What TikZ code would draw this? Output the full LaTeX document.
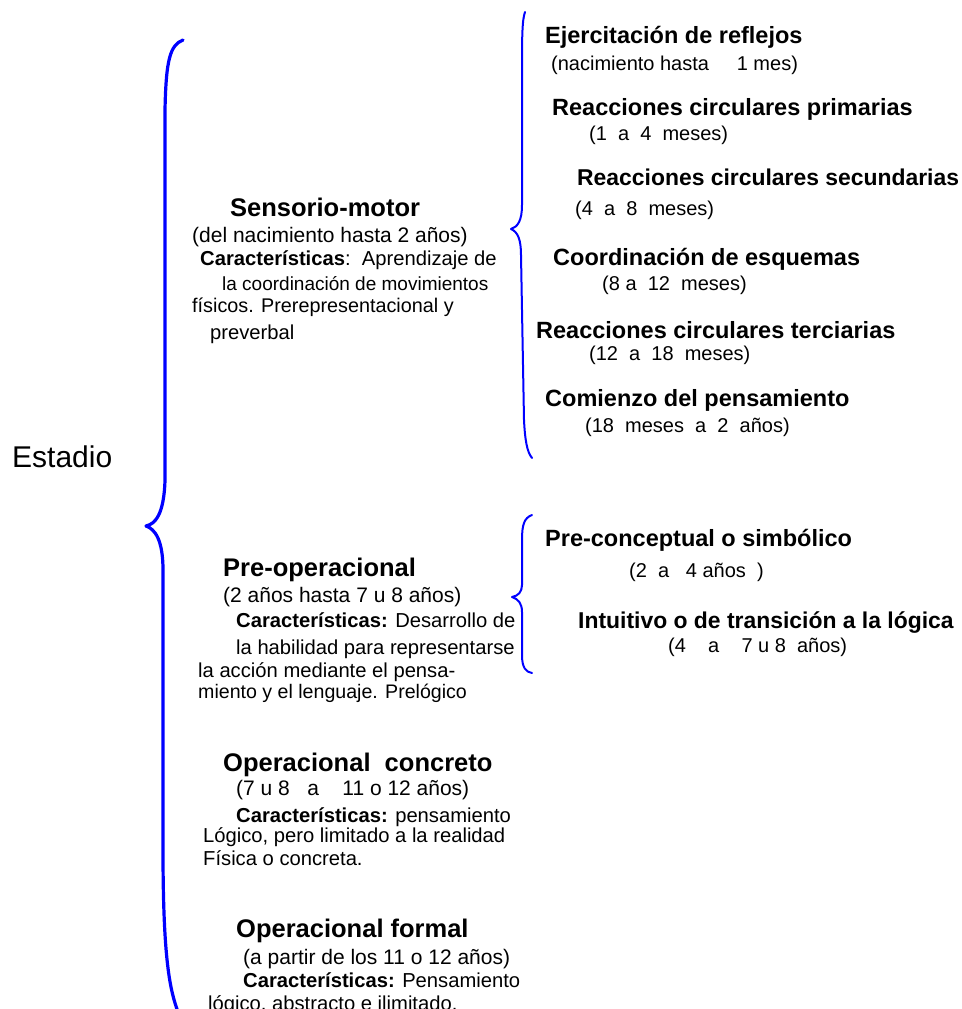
\documentclass[tikz,border=0pt]{standalone}
\usepackage{fontspec}
\setmainfont{Liberation Sans}
\begin{document}
\begin{tikzpicture}[x=1pt,y=-1pt,
tit/.style={anchor=base west,inner sep=0pt,font=\fontsize{25.5}{30}\selectfont\bfseries},
sub/.style={anchor=base west,inner sep=0pt,font=\fontsize{23.5}{28}\selectfont\bfseries},
subn/.style={anchor=base west,inner sep=0pt,font=\fontsize{22.9}{28}\selectfont\bfseries},
par/.style={anchor=base west,inner sep=0pt,font=\fontsize{21}{25}\selectfont},
txt/.style={anchor=base west,inner sep=0pt,font=\fontsize{20.2}{25}\selectfont},
lbl/.style={anchor=base west,inner sep=0pt,font=\fontsize{20}{24}\selectfont},
llave/.style={blue,line width=2pt,line cap=round,line join=round}]
\newcommand{\Car}{\textbf{Características:}}
\useasboundingbox(0,0)rectangle(961,1009);
\node[anchor=base west,inner sep=0pt,font=\fontsize{30}{36}\selectfont](estadio)at(12,467){Estadio};
\node[tit](sm)at(230,216){Sensorio-motor};
\node[par](sm1)at(192,242){(del nacimiento hasta 2 años)};
\node[txt](sm2)at(200,265){\textbf{Características}:~~Aprendizaje de};
\node[txt,font=\fontsize{19}{23}\selectfont](sm3)at(222,290){la coordinación de movimientos};
\node[txt,font=\fontsize{19.8}{23}\selectfont](sm4)at(192,312){físicos. Prerepresentacional y};
\node[txt](sm5)at(210,339){preverbal};
\node[tit](pre)at(223,576){Pre-operacional};
\node[par](pre1)at(223,602){(2 años hasta 7 u 8 años)};
\node[txt](pre2)at(236,627){\Car{} Desarrollo de};
\node[txt](pre3)at(236,654){la habilidad para representarse};
\node[txt](pre4)at(198,677){la acción mediante el pensa-};
\node[txt,font=\fontsize{19.6}{23}\selectfont](pre5)at(198,698){miento y el lenguaje. Prelógico};
\node[tit](opc)at(223,771){Operacional~~concreto};
\node[par](opc1)at(236,795){(7 u 8~~~a~~~~11 o 12 años)};
\node[txt](opc2)at(236,822){\Car{} pensamiento};
\node[txt](opc3)at(203,842){Lógico, pero limitado a la realidad};
\node[txt](opc4)at(203,865){Física o concreta.};
\node[tit](opf)at(236,937){Operacional formal};
\node[par](opf1)at(243,964){(a partir de los 11 o 12 años)};
\node[txt](opf2)at(243,987){\Car{} Pensamiento};
\node[txt](opf3)at(208,1010){lógico, abstracto e ilimitado.};
\node[sub](r1)at(545,43.5){Ejercitación de reflejos};
\node[lbl](r1a)at(551,70){(nacimiento hasta~~~~~1 mes)};
\node[sub](r2)at(552,115.5){Reacciones circulares primarias};
\node[lbl](r2a)at(589,140){(1~~a~~4~~meses)};
\node[subn](r3)at(577,185.5){Reacciones circulares secundarias};
\node[lbl](r3a)at(575,215){(4~~a~~8~~meses)};
\node[sub](r4)at(553,265.5){Coordinación de esquemas};
\node[lbl](r4a)at(602,290){(8 a~~12~~meses)};
\node[sub](r5)at(536,338.5){Reacciones circulares terciarias};
\node[lbl](r5a)at(589,360){(12~~a~~18~~meses)};
\node[sub](r6)at(545,406.5){Comienzo del pensamiento};
\node[lbl](r6a)at(585,432){(18~~meses~~a~~2~~años)};
\node[sub](p1)at(545,546.5){Pre-conceptual o simbólico};
\node[lbl](p1a)at(629,577){(2~~a~~~4 años~~)};
\node[subn](p2)at(578,628.5){Intuitivo o de transición a la lógica};
\node[lbl](p2a)at(668,652){(4~~~~a~~~~7 u 8~~años)};
\coordinate(t0)at(146,526);
\coordinate(t1)at(511,229);
\coordinate(t2)at(512,597);
\draw[llave,line width=3.2pt](183,40)..controls(170,45)and(166,60)..(165,110)--(165,480)
..controls(164,515)and(155,524)..(t0)..controls(155,529)and(163,540)..(163,570)
--(163,850)..controls(163,960)and(170,990)..(178,1012);
\draw[llave](525,12)..controls(522,20)and(522,40)..(522,70)--(522,205)
..controls(522,220)and(518,227)..(t1)..controls(518,232)and(521,240)..(521,255)
--(524,420)..controls(525,440)and(527,452)..(532,458);
\draw[llave](532,515)..controls(524,518)and(522,525)..(522,540)--(522,585)
..controls(522,592)and(518,596)..(t2)..controls(518,599)and(522,603)..(522,612)
--(522,655)..controls(522,668)and(526,672)..(532,673);
\end{tikzpicture}
\end{document}
